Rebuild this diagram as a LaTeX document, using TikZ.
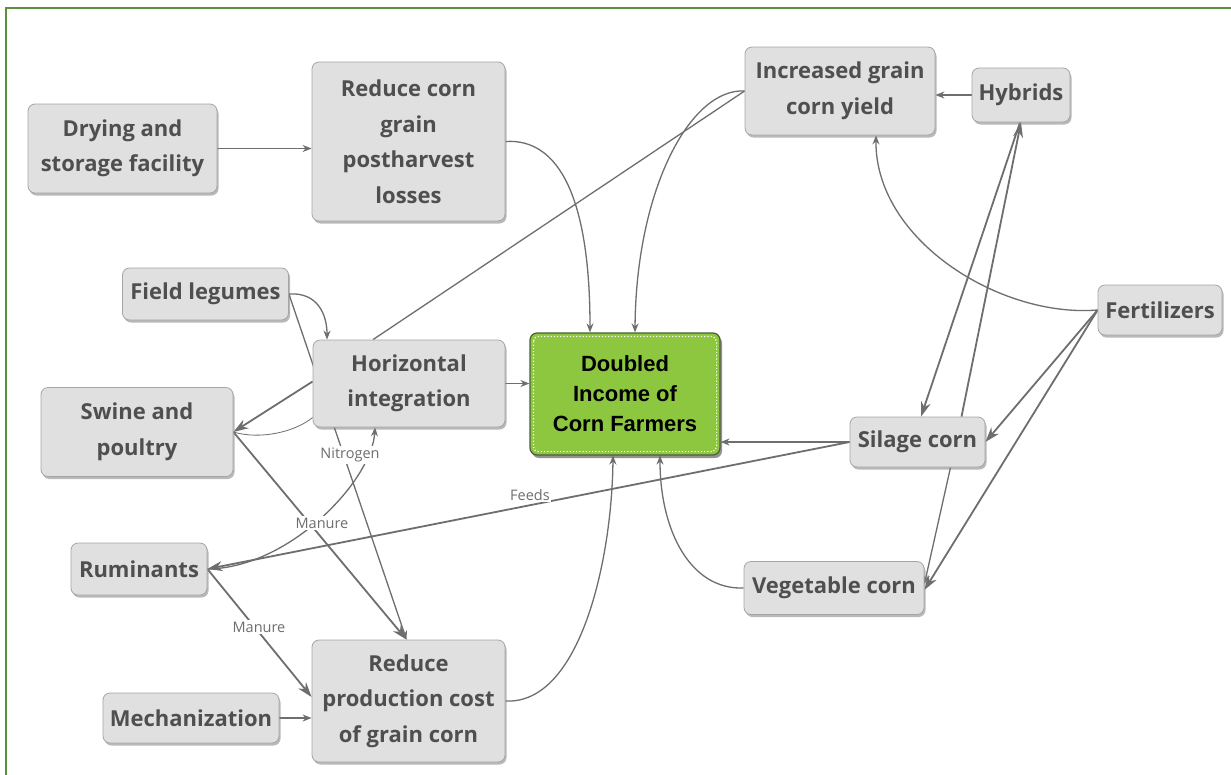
\documentclass[tikz,border=0pt]{standalone}
\usepackage{fontspec}
\setmainfont{Open Sans}
\newfontfamily\arialfont{Liberation Sans}
\usetikzlibrary{arrows.meta,shadows,backgrounds}
\definecolor{framegreen}{HTML}{5B8F3A}
\definecolor{boxfill}{HTML}{E0E0E0}
\definecolor{boxline}{HTML}{A5A5A5}
\definecolor{txtgrey}{HTML}{4F4F4F}
\definecolor{edgegrey}{HTML}{6E6E6E}
\definecolor{corn}{HTML}{8DC63F}
\definecolor{cornline}{HTML}{4E5E3A}
\begin{document}
\begin{tikzpicture}[x=1pt,y=-1pt,
  box/.style={draw=boxline, fill=boxfill, rounded corners=7pt, line width=0.8pt,
    text=txtgrey, font=\bfseries\fontsize{22}{35.5}\selectfont, align=center, inner sep=0pt,
    drop shadow={shadow xshift=1.5pt, shadow yshift=-2.5pt, fill=black!50, opacity=0.55}},
  goal/.style={draw=cornline, fill=corn, rounded corners=7pt, line width=1.2pt,
    text=black, font=\arialfont\bfseries\fontsize{22}{30}\selectfont, align=center, inner sep=0pt,
    drop shadow={shadow xshift=2pt, shadow yshift=-3pt, fill=black!65, opacity=0.65}},
  ar/.style={draw=edgegrey, line width=1.3pt, -{Stealth[length=9pt,width=7pt]}},
  arb/.style={draw=edgegrey, line width=1.8pt, -{Stealth[length=15pt,width=10pt]}},
  ln/.style={draw=edgegrey, line width=1.3pt},
  lnthin/.style={draw=edgegrey, line width=0.8pt},
  lbl/.style={fill=white, text=edgegrey, font=\fontsize{14.5}{16}\selectfont, inner sep=1.5pt}
]
\useasboundingbox (0,0) rectangle (1231,774);
\clip (0,0) rectangle (1231,774);

% nodes
\node[box, minimum width=189pt, minimum height=89pt] (dry) at (122.5,148.5) {Drying and\\storage facility};
\node[box, minimum width=193pt, minimum height=159pt] (rpl) at (408.5,141.5) {Reduce corn\\grain\\postharvest\\losses};
\node[box, minimum width=166pt, minimum height=52pt] (fl) at (205.5,294) {Field legumes};
\node[box, minimum width=192pt, minimum height=87pt] (hi) at (409,383.5) {Horizontal\\integration};
\node[box, minimum width=192pt, minimum height=89pt] (sp) at (137,432) {Swine and\\poultry};
\node[box, minimum width=136pt, minimum height=52pt] (rum) at (139,569) {Ruminants};
\node[box, minimum width=176pt, minimum height=50pt] (mech) at (191,718) {Mechanization};
\node[box, minimum width=193pt, minimum height=122pt] (rpc) at (408.5,701) {Reduce\\production cost\\of grain corn};
\node[box, minimum width=190pt, minimum height=88pt] (incr) at (840,91) {Increased grain\\corn yield};
\node[box, minimum width=98pt, minimum height=54pt] (hyb) at (1021,95) {Hybrids};
\node[box, minimum width=124pt, minimum height=50pt] (fert) at (1160,310) {Fertilizers};
\node[box, minimum width=135pt, minimum height=50pt] (sil) at (917.5,442) {Silage corn};
\node[box, minimum width=180pt, minimum height=53pt] (veg) at (834,588) {Vegetable corn};
\node[goal, minimum width=190pt, minimum height=122pt] (dbl) at (625,394) {Doubled\\Income of\\Corn Farmers};
\draw[white, dotted, line width=1.2pt, rounded corners=5pt]
  ([xshift=4pt,yshift=-4pt]dbl.north west) rectangle ([xshift=-4pt,yshift=4pt]dbl.south east);

\begin{scope}[on background layer]
\fill[white] (0,0) rectangle (1231,774);
\draw[framegreen, line width=2pt] (6,8) rectangle (1245,790);

\draw[ar] (dry.east) -- (dry.east -| rpl.west);
\draw[ar] (rpl.east) .. controls (560,138) and (590,200) .. ([xshift=-35pt]dbl.north);
\draw[ar] (incr.west) .. controls (690,88) and (636,190) .. ([xshift=10pt]dbl.north);
\draw[ln] ([xshift=-36pt]hi.north) -- (incr.west);
\draw[ar] (hyb.west) -- (hyb.west -| incr.east);
\draw[ar] (fert.west) .. controls (1000,318) and (875,240) .. ([xshift=36pt]incr.south);
\draw[arb] ([xshift=-1pt]hyb.south) -- ([xshift=3.5pt]sil.north);
\draw[arb] ([xshift=44pt]sil.north) -- (hyb.south);
\draw[ar] ([xshift=33pt]sil.south) -- ([yshift=4pt]veg.east);
\draw[arb] (fert.west) -- (sil.east);
\draw[arb] (fert.west) -- ([yshift=-2pt]veg.east);
\draw[ar] (sil.west) -- (sil.west -| dbl.east);
\draw[arb] (sil.west) -- (rum.east);
\draw[ar] (veg.west) .. controls (690,590) and (660,530) .. ([xshift=35pt]dbl.south);
\draw[ar] (rpc.east) .. controls (580,705) and (612,560) .. ([xshift=-12pt]dbl.south);
\draw[ar] (hi.east) -- (hi.east -| dbl.west);
\draw[arb] ([yshift=2pt]hi.west) -- (sp.east);
\draw[lnthin] ([yshift=-34pt]hi.west) .. controls (295,432) and (260,440) .. (sp.east);
\draw[arb] (sp.east) -- ([xshift=-2pt]rpc.north);
\draw[ar] (fl.east) -- ([xshift=-2pt]rpc.north);
\draw[ar] (fl.east) .. controls (318,292) and (327,315) .. ([xshift=-82pt]hi.north);
\draw[ar] (rum.east) .. controls (290,568) and (372,480) .. ([xshift=-34pt]hi.south);
\draw[arb] (rum.east) -- ([yshift=4pt]rpc.west);
\draw[ar] (mech.east) -- (mech.east -| rpc.west);

\node[lbl] (lnit) at (350,455) {Nitrogen};
\node[lbl] (lman1) at (322,523) {Manure};
\node[lbl] (lfeed) at (530,495) {Feeds};
\node[lbl] (lman2) at (259,627) {Manure};
\end{scope}
\end{tikzpicture}
\end{document}
